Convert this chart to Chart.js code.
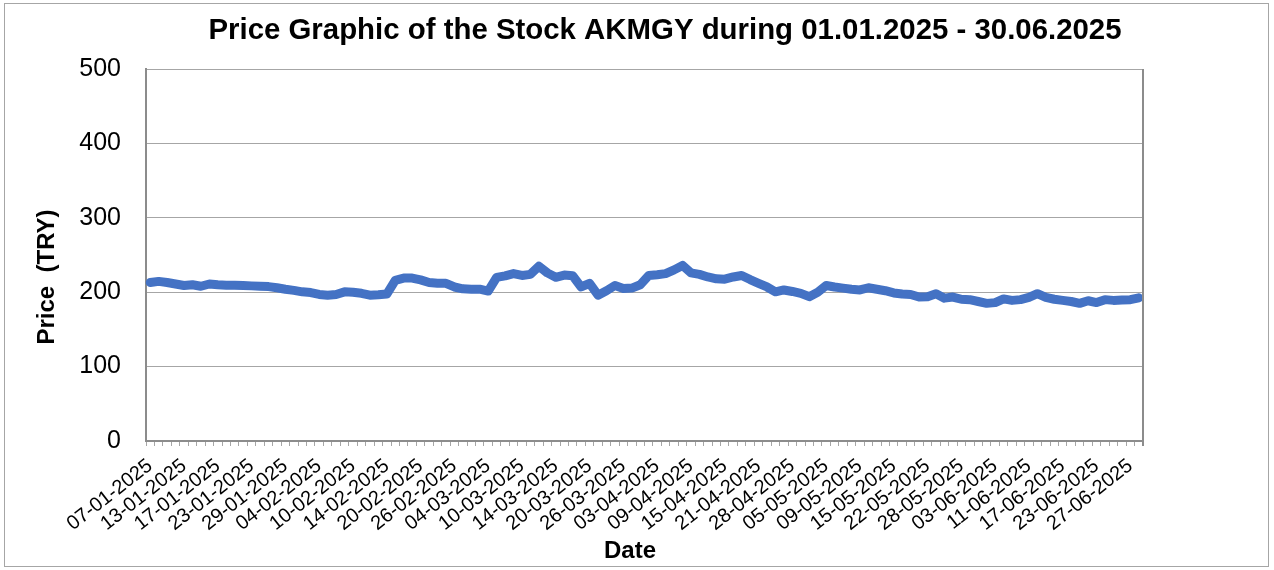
<!DOCTYPE html>
<html>
<head>
<meta charset="utf-8">
<script src="https://cdn.jsdelivr.net/npm/chart.js@4.4.1/dist/chart.umd.min.js"></script>
<style>
  html, body { margin: 0; padding: 0; background: #ffffff; }
  #wrap { width: 1274px; height: 570px; position: relative; }
</style>
</head>
<body>
<div id="wrap"><canvas id="c" width="1274" height="570"></canvas></div>
<script>
const chartTitle = 'Price Graphic of the Stock AKMGY during 01.01.2025 - 30.06.2025';
const xAxisTitle = 'Date';
const yAxisTitle = 'Price  (TRY)';

const dates = [
  '07-01-2025','08-01-2025','09-01-2025','10-01-2025','13-01-2025','14-01-2025','15-01-2025','16-01-2025','17-01-2025','20-01-2025',
  '21-01-2025','22-01-2025','23-01-2025','24-01-2025','27-01-2025','28-01-2025','29-01-2025','30-01-2025','31-01-2025',
  '03-02-2025','04-02-2025','05-02-2025','06-02-2025','07-02-2025','10-02-2025','11-02-2025','12-02-2025','13-02-2025','14-02-2025',
  '17-02-2025','18-02-2025','19-02-2025','20-02-2025','21-02-2025','24-02-2025','25-02-2025','26-02-2025','27-02-2025','28-02-2025',
  '03-03-2025','04-03-2025','05-03-2025','06-03-2025','07-03-2025','10-03-2025','11-03-2025','12-03-2025','13-03-2025','14-03-2025',
  '17-03-2025','18-03-2025','19-03-2025','20-03-2025','21-03-2025','24-03-2025','25-03-2025','26-03-2025','27-03-2025','28-03-2025',
  '02-04-2025','03-04-2025','04-04-2025','07-04-2025','08-04-2025','09-04-2025','10-04-2025','11-04-2025','14-04-2025','15-04-2025',
  '16-04-2025','17-04-2025','18-04-2025','21-04-2025','22-04-2025','24-04-2025','25-04-2025','28-04-2025','29-04-2025','30-04-2025',
  '02-05-2025','05-05-2025','06-05-2025','07-05-2025','08-05-2025','09-05-2025','12-05-2025','13-05-2025','14-05-2025','15-05-2025',
  '16-05-2025','20-05-2025','21-05-2025','22-05-2025','23-05-2025','26-05-2025','27-05-2025','28-05-2025','29-05-2025','30-05-2025',
  '02-06-2025','03-06-2025','04-06-2025','05-06-2025','10-06-2025','11-06-2025','12-06-2025','13-06-2025','16-06-2025','17-06-2025',
  '18-06-2025','19-06-2025','20-06-2025','23-06-2025','24-06-2025','25-06-2025','26-06-2025','27-06-2025','30-06-2025'
];

const prices = [
  213, 214.5, 213, 211, 209, 210, 208, 211, 210, 209.5,
  209.5, 209, 208.5, 208, 207.5, 206, 204, 202.5, 200.5,
  199.5, 197, 196, 197, 200.5, 200, 198.5, 196, 196.5, 197.5,
  216, 219, 219, 216.5, 213, 212, 212, 207, 204.5, 204,
  204, 201.5, 220, 222, 225, 222.5, 224, 235, 226, 220,
  223, 222, 207, 212, 196, 202, 209, 205, 205.5, 210,
  222.5, 223.5, 225, 230, 236, 226, 224, 220.5, 218, 217.5,
  220.5, 222.5, 217, 212, 207, 200.5, 203, 201, 198.5, 194,
  200, 209, 207, 205.5, 204, 203, 206, 204, 202, 199,
  197.5, 197, 193.5, 194, 198, 192, 193.5, 190.5, 190, 187.5,
  185, 186, 191, 189, 190, 193, 198, 193, 190.5, 189,
  187.5, 185, 188.5, 186, 190, 189, 189.5, 190, 192.5
];

const yTicks = [0, 100, 200, 300, 400, 500];
const labelEvery = 4;

const gridColor = '#a6a6a6';
const axisColor = '#8c8c8c';
const FONT = "'Liberation Sans', Arial, sans-serif";

const framePlugin = {
  id: 'frame',
  beforeDraw(chart) {
    const ctx = chart.ctx;
    ctx.save();
    ctx.fillStyle = '#ffffff';
    ctx.fillRect(0, 0, chart.width, chart.height);
    ctx.strokeStyle = '#a6a6a6';
    ctx.lineWidth = 1;
    ctx.strokeRect(4.5, 3.5, 1264, 563);
    ctx.restore();
  },
  afterDraw(chart) {
    const a = chart.chartArea;
    const ctx = chart.ctx;
    ctx.save();
    ctx.strokeStyle = axisColor;
    ctx.lineWidth = 2;
    ctx.beginPath();
    ctx.moveTo(a.right, a.top);
    ctx.lineTo(a.right, a.bottom + 5);
    ctx.stroke();

    ctx.fillStyle = '#000000';
    ctx.textAlign = 'center';
    ctx.textBaseline = 'middle';
    ctx.font = 'bold 29.4px ' + FONT;
    ctx.fillText(chartTitle, 665, 31);

    ctx.font = 'bold 24px ' + FONT;
    ctx.fillText(xAxisTitle, 630, 551);

    ctx.translate(47, 277);
    ctx.rotate(-Math.PI / 2);
    ctx.fillText(yAxisTitle, 0, 0);
    ctx.restore();
  }
};

new Chart(document.getElementById('c'), {
  type: 'line',
  data: {
    labels: dates,
    datasets: [{
      data: prices,
      borderColor: '#4472C4',
      borderWidth: 9,
      pointRadius: 0,
      pointHoverRadius: 0,
      tension: 0,
      fill: false,
      borderJoinStyle: 'round',
      borderCapStyle: 'round'
    }]
  },
  options: {
    responsive: false,
    animation: false,
    events: [],
    layout: { padding: { left: 5, right: 131, top: 69, bottom: 3 } },
    plugins: {
      legend: { display: false },
      tooltip: { enabled: false },
      title: { display: false }
    },
    scales: {
      x: {
        type: 'category',
        offset: true,
        afterFit(scale) { scale.height = 126; },
        grid: {
          offset: true,
          drawOnChartArea: false,
          drawTicks: true,
          tickLength: 5,
          color: gridColor,
          lineWidth: 1
        },
        border: { display: true, color: axisColor, width: 2 },
        ticks: {
          autoSkip: false,
          maxRotation: 38,
          minRotation: 38,
          padding: 8,
          color: '#000000',
          font: { family: FONT, size: 20 },
          callback(value, index) { return index % labelEvery === 0 ? dates[index] : ''; }
        },
        title: { display: false }
      },
      y: {
        min: 0,
        max: 500,
        afterFit(scale) { scale.width = 141; },
        afterBuildTicks(scale) { scale.ticks = yTicks.map(v => ({ value: v })); },
        grid: { color: gridColor, lineWidth: 1, drawTicks: false },
        border: { display: true, color: axisColor, width: 2 },
        ticks: {
          padding: 25,
          color: '#000000',
          font: { family: FONT, size: 25 }
        },
        title: { display: false }
      }
    }
  },
  plugins: [framePlugin]
});
</script>
</body>
</html>
